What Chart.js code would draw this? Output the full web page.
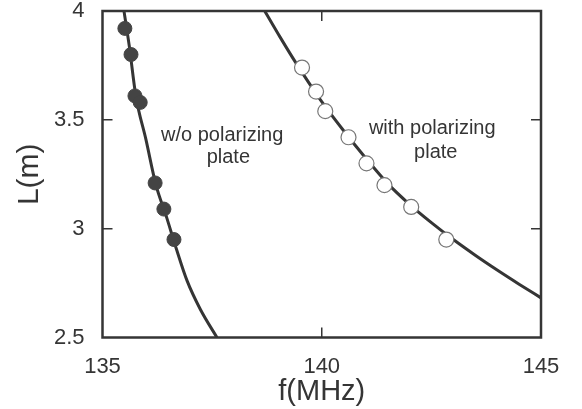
<!DOCTYPE html>
<html>
<head>
<meta charset="utf-8">
<script src="https://cdn.jsdelivr.net/npm/chart.js@4/dist/chart.umd.min.js"></script>
<style>
  html, body { margin: 0; padding: 0; background: #fff; }
  #wrap { width: 582px; height: 409px; }
</style>
</head>
<body>
<div id="wrap"><canvas id="c" width="582" height="409"></canvas></div>
<script>
// ---- data ----
const xTicks = [135, 140, 145];
const yTicks = [2.5, 3, 3.5, 4];
const xTickLabels = ['135', '140', '145'];
const yTickLabels = ['2.5', '3', '3.5', '4'];

// measured points, without polarizing plate (filled)
const woF = [135.51, 135.65, 135.74, 135.86, 136.20, 136.40, 136.63];
const woL = [3.92, 3.80, 3.61, 3.58, 3.21, 3.09, 2.95];
// measured points, with polarizing plate (open)
const withF = [139.55, 139.87, 140.08, 140.61, 141.02, 141.43, 142.04, 142.84];
const withL = [3.74, 3.63, 3.54, 3.42, 3.30, 3.20, 3.10, 2.95];

// fitted curves
const woCurveF = [135.49, 135.61, 135.76, 135.99, 136.22, 136.45, 136.68, 136.93, 137.23, 137.61];
const woCurveL = [4.00, 3.84, 3.61, 3.41, 3.20, 3.06, 2.91, 2.76, 2.63, 2.50];
const withCurveF = [138.70, 139.05, 139.40, 139.97, 140.50, 141.00, 141.50, 142.00, 142.50, 143.00, 143.50, 144.00, 144.50, 145.00];
const withCurveL = [4.000, 3.880, 3.765, 3.592, 3.450, 3.325, 3.208, 3.112, 3.028, 2.950, 2.878, 2.810, 2.745, 2.682];

// annotation texts
const woText = ['w/o polarizing', 'plate'];
const withText = ['with polarizing', 'plate'];

const xLabel = 'f(MHz)';
const yLabel = 'L(m)';

const toXY = (xs, ys) => xs.map((x, i) => ({x: x, y: ys[i]}));

const INK = '#353535';
const FONT = "'Liberation Sans', Arial, Helvetica, sans-serif";

const frame = {
  id: 'frame',
  afterDatasetsDraw(chart) {
    const {ctx, chartArea: a, scales: {x, y}} = chart;
    ctx.save();
    ctx.strokeStyle = INK;
    ctx.lineWidth = 2.5;
    ctx.strokeRect(a.left, a.top, a.right - a.left, a.bottom - a.top);
    ctx.lineWidth = 1.5;
    const tl = 10;
    yTicks.slice(1, -1).forEach(v => {
      const py = y.getPixelForValue(v);
      ctx.beginPath();
      ctx.moveTo(a.left, py); ctx.lineTo(a.left + tl, py);
      ctx.moveTo(a.right, py); ctx.lineTo(a.right - tl, py);
      ctx.stroke();
    });
    xTicks.slice(1, -1).forEach(v => {
      const px = x.getPixelForValue(v);
      ctx.beginPath();
      ctx.moveTo(px, a.bottom); ctx.lineTo(px, a.bottom - tl);
      ctx.moveTo(px, a.top); ctx.lineTo(px, a.top + tl);
      ctx.stroke();
    });
    ctx.fillStyle = INK;
    ctx.font = '20px ' + FONT;
    ctx.textAlign = 'center';
    ctx.textBaseline = 'middle';
    ctx.fillText(woText[0], x.getPixelForValue(137.73), y.getPixelForValue(3.43));
    ctx.fillText(woText[1], x.getPixelForValue(137.87), y.getPixelForValue(3.325));
    ctx.fillText(withText[0], x.getPixelForValue(142.52), y.getPixelForValue(3.46));
    ctx.fillText(withText[1], x.getPixelForValue(142.6), y.getPixelForValue(3.35));
    ctx.restore();
  }
};

new Chart(document.getElementById('c'), {
  type: 'line',
  data: {
    datasets: [
      { data: toXY(woF, woL), showLine: false, pointRadius: 7, pointHoverRadius: 7,
        pointBackgroundColor: '#444', pointBorderColor: '#444', pointBorderWidth: 1, order: 1 },
      { data: toXY(withF, withL), showLine: false, pointRadius: 7.5, pointHoverRadius: 7.5,
        pointBackgroundColor: '#fff', pointBorderColor: '#777', pointBorderWidth: 1.2, order: 1 },
      { data: toXY(woCurveF, woCurveL), pointRadius: 0, borderColor: INK, borderWidth: 3,
        cubicInterpolationMode: 'monotone', fill: false, order: 2 },
      { data: toXY(withCurveF, withCurveL), pointRadius: 0, borderColor: INK, borderWidth: 3,
        cubicInterpolationMode: 'monotone', fill: false, order: 2 }
    ]
  },
  options: {
    responsive: false,
    animation: false,
    events: [],
    layout: { padding: { top: 11, right: 41, left: 0, bottom: 0 } },
    plugins: { legend: { display: false }, tooltip: { enabled: false } },
    scales: {
      x: {
        type: 'linear', min: 135, max: 145,
        afterBuildTicks: s => { s.ticks = xTicks.map(v => ({value: v})); },
        afterFit: s => { s.height = 71.5; s.paddingLeft = 0; s.paddingRight = 0; },
        grid: { display: false, drawTicks: false },
        border: { display: false },
        ticks: { padding: 16, color: INK, font: { family: FONT, size: 22 },
                 maxRotation: 0, autoSkip: false,
                 callback: v => xTickLabels[xTicks.indexOf(v)] },
        title: { display: true, text: xLabel, color: INK, padding: { top: 0, bottom: 0 },
                 font: { family: FONT, size: 29 } }
      },
      y: {
        type: 'linear', min: 2.5, max: 4,
        afterBuildTicks: s => { s.ticks = yTicks.map(v => ({value: v})); },
        afterFit: s => { s.width = 102.5; s.paddingTop = 0; s.paddingBottom = 0; },
        grid: { display: false, drawTicks: false },
        border: { display: false },
        ticks: { padding: 18, color: INK, font: { family: FONT, size: 22 },
                 autoSkip: false,
                 callback: v => yTickLabels[yTicks.indexOf(v)] },
        title: { display: true, text: yLabel, color: INK, padding: { top: 12, bottom: 0 },
                 font: { family: FONT, size: 30 } }
      }
    }
  },
  plugins: [frame]
});
</script>
</body>
</html>
